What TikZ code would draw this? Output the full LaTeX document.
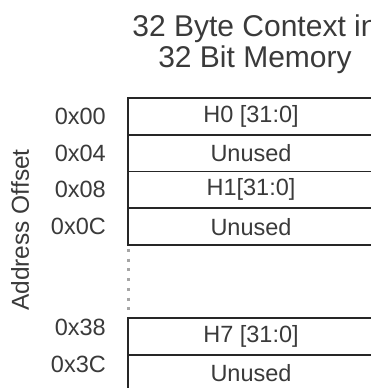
\documentclass[tikz,border=0pt]{standalone}
\usepackage{fontspec}
\setmainfont{Liberation Sans}
\usepackage{xcolor}
\usetikzlibrary{positioning}
\definecolor{inkgray}{HTML}{3A3A3A}
\definecolor{linegray}{HTML}{262626}

\begin{document}
\begin{tikzpicture}[
    x=1pt, y=-1pt,
    row/.style={rectangle, draw=linegray, line width=1.6pt, minimum width=246pt,
                minimum height=36.75pt, inner sep=0pt, outer sep=0pt,
                text=inkgray, font=\fontsize{23.5}{26}\selectfont},
    offset/.style={text=inkgray, inner sep=0pt, font=\fontsize{23.5}{26}\selectfont},
    title/.style={text=inkgray, align=center, font=\fontsize{30}{31}\selectfont},
    gap/.style={draw=gray!70, line width=3pt, dash pattern=on 3pt off 6.7pt,
                shorten <=4pt, shorten >=4pt},
]
\useasboundingbox (0,0) rectangle (371,388);
\clip (0,0) rectangle (371,388);

% Title
\node[title] (title) at (255,44) {32 Byte Context in\\32 Bit Memory};

% Upper block
\node[row, anchor=north west] (h0) at (128,98) {H0 [31:0]};
\node[row, below=0pt of h0] (u0) {Unused};
\node[row, below=0pt of u0] (h1) {H1[31:0]};
\node[row, below=0pt of h1] (u1) {Unused};

% Lower block
\node[row, anchor=north west] (h7) at (128,318) {H7 [31:0]};
\node[row, below=0pt of h7] (u7) {Unused};

% Gap
\draw[gap] (u1.south west) -- (h7.north west);

% Offsets
\node[offset, left=22pt of h0] (a00) {0x00};
\node[offset, left=22pt of u0] (a04) {0x04};
\node[offset, left=22pt of h1] (a08) {0x08};
\node[offset, left=22pt of u1] (a0c) {0x0C};
\node[offset, left=22pt of h7, yshift=9pt] (a38) {0x38};
\node[offset, left=22pt of u7, yshift=8.5pt] (a3c) {0x3C};

% Axis label
\node[offset, font=\fontsize{24.5}{26}\selectfont, rotate=90] (addr) at (20,230) {Address Offset};
\end{tikzpicture}
\end{document}
